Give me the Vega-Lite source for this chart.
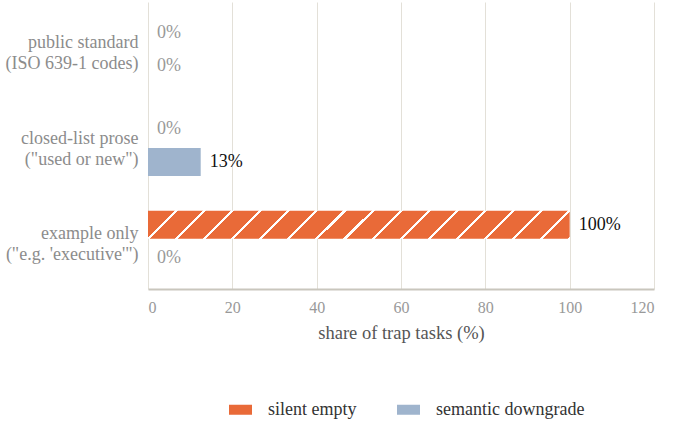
{
  "$schema": "https://vega.github.io/schema/vega-lite/v6.json",
  "description": "Share of trap tasks by spec style",
  "autosize": "none",
  "padding": {"left": 148, "top": 2, "right": 19, "bottom": 142},
  "width": 506,
  "height": 287,
  "config": {
    "font": "Liberation Serif",
    "view": {"stroke": null}
  },
  "data": {
    "values": [
      {"category": "public standard\n(ISO 639-1 codes)", "series": "silent empty", "value": 0, "label": "0%"},
      {"category": "public standard\n(ISO 639-1 codes)", "series": "semantic downgrade", "value": 0, "label": "0%"},
      {"category": "closed-list prose\n(\"used or new\")", "series": "silent empty", "value": 0, "label": "0%"},
      {"category": "closed-list prose\n(\"used or new\")", "series": "semantic downgrade", "value": 12.5, "label": "13%"},
      {"category": "example only\n(\"e.g. 'executive'\")", "series": "silent empty", "value": 100, "label": "100%"},
      {"category": "example only\n(\"e.g. 'executive'\")", "series": "semantic downgrade", "value": 0, "label": "0%"}
    ]
  },
  "encoding": {
    "y": {
      "field": "category",
      "type": "nominal",
      "sort": null,
      "title": null,
      "scale": {"paddingInner": 0.3, "paddingOuter": 0.15},
      "axis": {
        "domain": false,
        "ticks": false,
        "grid": false,
        "labelExpr": "split(datum.label, '\\n')",
        "labelFontSize": 18,
        "labelLineHeight": 21,
        "labelOffset": -7,
        "labelColor": "#8c8c8c",
        "labelPadding": 10
      }
    },
    "yOffset": {
      "field": "series",
      "type": "nominal",
      "sort": ["silent empty", "semantic downgrade"],
      "scale": {"paddingInner": 0.152, "paddingOuter": 0.094}
    },
    "x": {
      "field": "value",
      "type": "quantitative",
      "title": "share of trap tasks (%)",
      "scale": {"domain": [0, 120]},
      "axis": {
        "values": [0, 20, 40, 60, 80, 100, 120],
        "ticks": false,
        "grid": true,
        "gridColor": "#e3e0d8",
        "domainColor": "#c9c6bd",
        "domainWidth": 2,
        "labelFontSize": 16,
        "labelColor": "#999999",
        "labelPadding": 10,
        "titleFontSize": 18.5,
        "titleFontWeight": "normal",
        "titleColor": "#555555",
        "titlePadding": 8
      }
    }
  },
  "layer": [
    {
      "mark": {"type": "bar", "strokeWidth": 0},
      "encoding": {
        "color": {
          "field": "series",
          "type": "nominal",
          "scale": {"domain": ["silent empty", "semantic downgrade"], "range": ["#e96a38", "#9fb4cd"]},
          "condition": {
            "test": "datum.series === 'silent empty'",
            "value": {
              "gradient": "linear",
              "x1": 0, "y1": 0, "x2": 1.0617, "y2": 0.0705,
              "stops": [
                {"offset": 0, "color": "#e96a38"},
                {"offset": 0.0590, "color": "#e96a38"}, {"offset": 0.0590, "color": "#ffffff"}, {"offset": 0.0660, "color": "#ffffff"}, {"offset": 0.0660, "color": "#e96a38"},
                {"offset": 0.1215, "color": "#e96a38"}, {"offset": 0.1215, "color": "#ffffff"}, {"offset": 0.1285, "color": "#ffffff"}, {"offset": 0.1285, "color": "#e96a38"},
                {"offset": 0.1840, "color": "#e96a38"}, {"offset": 0.1840, "color": "#ffffff"}, {"offset": 0.1910, "color": "#ffffff"}, {"offset": 0.1910, "color": "#e96a38"},
                {"offset": 0.2465, "color": "#e96a38"}, {"offset": 0.2465, "color": "#ffffff"}, {"offset": 0.2535, "color": "#ffffff"}, {"offset": 0.2535, "color": "#e96a38"},
                {"offset": 0.3090, "color": "#e96a38"}, {"offset": 0.3090, "color": "#ffffff"}, {"offset": 0.3160, "color": "#ffffff"}, {"offset": 0.3160, "color": "#e96a38"},
                {"offset": 0.3715, "color": "#e96a38"}, {"offset": 0.3715, "color": "#ffffff"}, {"offset": 0.3785, "color": "#ffffff"}, {"offset": 0.3785, "color": "#e96a38"},
                {"offset": 0.4340, "color": "#e96a38"}, {"offset": 0.4340, "color": "#ffffff"}, {"offset": 0.4410, "color": "#ffffff"}, {"offset": 0.4410, "color": "#e96a38"},
                {"offset": 0.4965, "color": "#e96a38"}, {"offset": 0.4965, "color": "#ffffff"}, {"offset": 0.5035, "color": "#ffffff"}, {"offset": 0.5035, "color": "#e96a38"},
                {"offset": 0.5590, "color": "#e96a38"}, {"offset": 0.5590, "color": "#ffffff"}, {"offset": 0.5660, "color": "#ffffff"}, {"offset": 0.5660, "color": "#e96a38"},
                {"offset": 0.6215, "color": "#e96a38"}, {"offset": 0.6215, "color": "#ffffff"}, {"offset": 0.6285, "color": "#ffffff"}, {"offset": 0.6285, "color": "#e96a38"},
                {"offset": 0.6840, "color": "#e96a38"}, {"offset": 0.6840, "color": "#ffffff"}, {"offset": 0.6910, "color": "#ffffff"}, {"offset": 0.6910, "color": "#e96a38"},
                {"offset": 0.7465, "color": "#e96a38"}, {"offset": 0.7465, "color": "#ffffff"}, {"offset": 0.7535, "color": "#ffffff"}, {"offset": 0.7535, "color": "#e96a38"},
                {"offset": 0.8090, "color": "#e96a38"}, {"offset": 0.8090, "color": "#ffffff"}, {"offset": 0.8160, "color": "#ffffff"}, {"offset": 0.8160, "color": "#e96a38"},
                {"offset": 0.8715, "color": "#e96a38"}, {"offset": 0.8715, "color": "#ffffff"}, {"offset": 0.8785, "color": "#ffffff"}, {"offset": 0.8785, "color": "#e96a38"},
                {"offset": 0.9340, "color": "#e96a38"}, {"offset": 0.9340, "color": "#ffffff"}, {"offset": 0.9410, "color": "#ffffff"}, {"offset": 0.9410, "color": "#e96a38"},
                {"offset": 0.9965, "color": "#e96a38"}, {"offset": 0.9965, "color": "#ffffff"}, {"offset": 1, "color": "#ffffff"}
              ]
            }
          },
          "legend": {
            "title": null,
            "orient": "none",
            "direction": "horizontal",
            "legendX": 81,
            "legendY": 396,
            "symbolType": "M-1,-0.435H1V0.435H-1Z",
            "symbolSize": 529,
            "symbolStrokeWidth": 0,
            "labelFontSize": 18,
            "labelColor": "#333333",
            "labelOffset": 16,
            "columnPadding": 40
          }
        }
      }
    },
    {
      "mark": {"type": "text", "align": "left", "baseline": "middle", "dx": 9, "fontSize": 18},
      "encoding": {
        "text": {"field": "label"},
        "color": {
          "condition": {"test": "datum.value > 0", "value": "#111111"},
          "value": "#999999"
        }
      }
    }
  ]
}
